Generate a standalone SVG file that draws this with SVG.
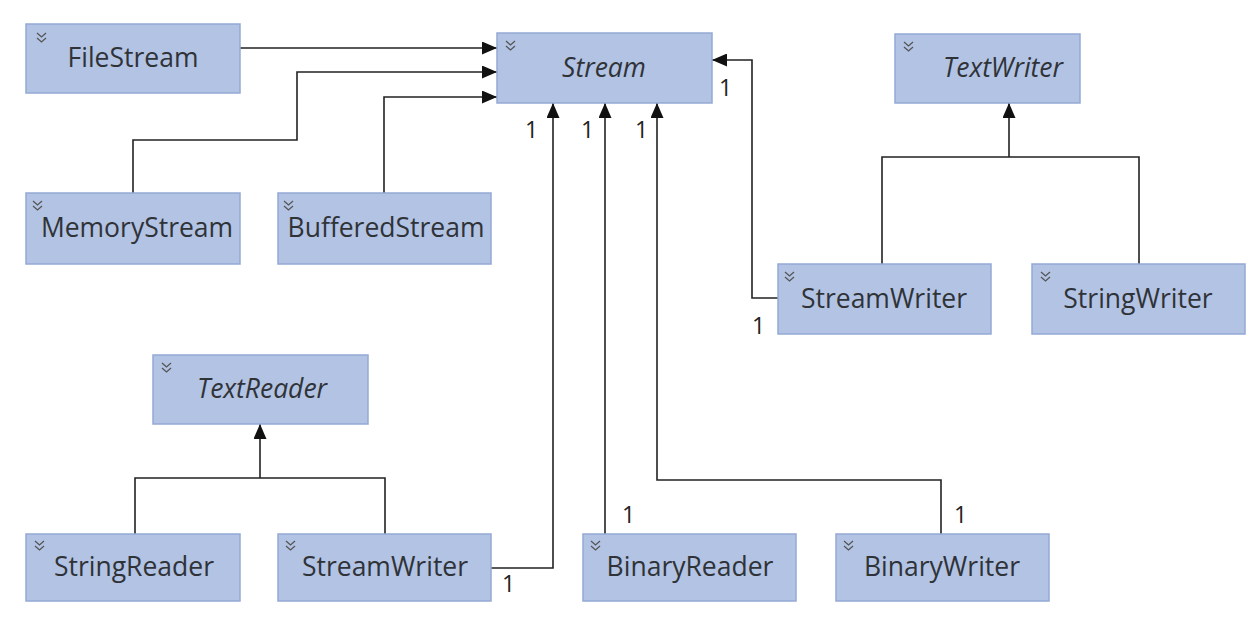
<svg xmlns="http://www.w3.org/2000/svg" width="1252" height="619" viewBox="0 0 1252 619">
<defs>
<style>
.box{fill:#b3c3e4;stroke:#94a9d4;stroke-width:1.5}
.t{font-family:"Open Sans","Liberation Sans",sans-serif;font-size:26.5px;fill:#2f3338;text-anchor:middle}
.i{font-style:italic}
.m{font-family:"Open Sans","Liberation Sans",sans-serif;font-size:23px;fill:#222}
.c{fill:none;stroke:#222;stroke-width:1.6}
.chev{fill:none;stroke:#555;stroke-width:1.3}
</style>
<marker id="ah" viewBox="0 0 15 13" refX="15" refY="6.5" markerWidth="15" markerHeight="13" markerUnits="userSpaceOnUse" orient="auto">
<path d="M0,0 L15,6.5 L0,13 Z" fill="#111"/>
</marker>
<g id="chv"><path class="chev" d="M0,0 L4.5,4 L9,0 M0,5 L4.5,9 L9,5"/></g>
</defs>
<rect width="1252" height="619" fill="#fff"/>

<g id="connectors">
<path class="c" d="M240,48 H497" marker-end="url(#ah)"/>
<path class="c" d="M133,193 V140 H297 V72 H497" marker-end="url(#ah)"/>
<path class="c" d="M384,193 V97 H497" marker-end="url(#ah)"/>
<path class="c" d="M778,298 H752 V60 H712" marker-end="url(#ah)"/>
<path class="c" d="M491,568 H553 V103" marker-end="url(#ah)"/>
<path class="c" d="M605,534 V103" marker-end="url(#ah)"/>
<path class="c" d="M941,534 V480 H657 V103" marker-end="url(#ah)"/>
<path class="c" d="M882,264 V157 H1139 V264 M1009,157 V103" marker-end="url(#ah)"/>
<path class="c" d="M135,534 V478 H385 V534 M260,478 V424" marker-end="url(#ah)"/>
<text class="m" x="719" y="96">1</text>
<text class="m" x="752" y="334">1</text>
<text class="m" x="525" y="138">1</text>
<text class="m" x="502" y="592">1</text>
<text class="m" x="581" y="138">1</text>
<text class="m" x="622" y="523">1</text>
<text class="m" x="635" y="138">1</text>
<text class="m" x="954" y="523">1</text>
</g>

<g id="FileStream"><rect class="box" x="26" y="24" width="214" height="69"/><use href="#chv" x="37" y="33"/><text class="t" x="133" y="67">FileStream</text></g>
<g id="Stream"><rect class="box" x="497" y="33" width="215" height="70"/><use href="#chv" x="506" y="41"/><text class="t i" x="604" y="77">Stream</text></g>
<g id="TextWriter"><rect class="box" x="895" y="34" width="185" height="69"/><use href="#chv" x="904" y="42"/><text class="t i" x="1003" y="77">TextWriter</text></g>
<g id="MemoryStream"><rect class="box" x="26" y="193" width="214" height="71"/><use href="#chv" x="33" y="201"/><text class="t" x="137" y="237">MemoryStream</text></g>
<g id="BufferedStream"><rect class="box" x="278" y="193" width="213" height="71"/><use href="#chv" x="284" y="201"/><text class="t" x="386" y="237">BufferedStream</text></g>
<g id="StreamWriterTop"><rect class="box" x="778" y="264" width="213" height="70"/><use href="#chv" x="785" y="272"/><text class="t" x="884" y="308">StreamWriter</text></g>
<g id="StringWriter"><rect class="box" x="1032" y="264" width="213" height="70"/><use href="#chv" x="1041" y="272"/><text class="t" x="1138" y="308">StringWriter</text></g>
<g id="TextReader"><rect class="box" x="153" y="355" width="215" height="69"/><use href="#chv" x="162" y="363"/><text class="t i" x="262" y="398">TextReader</text></g>
<g id="StringReader"><rect class="box" x="26" y="534" width="214" height="67"/><use href="#chv" x="35" y="541"/><text class="t" x="134" y="576">StringReader</text></g>
<g id="StreamWriterBottom"><rect class="box" x="278" y="534" width="213" height="67"/><use href="#chv" x="286" y="541"/><text class="t" x="385" y="576">StreamWriter</text></g>
<g id="BinaryReader"><rect class="box" x="583" y="534" width="213" height="67"/><use href="#chv" x="591" y="541"/><text class="t" x="690" y="576">BinaryReader</text></g>
<g id="BinaryWriter"><rect class="box" x="836" y="534" width="213" height="67"/><use href="#chv" x="844" y="541"/><text class="t" x="942" y="576">BinaryWriter</text></g>
</svg>
